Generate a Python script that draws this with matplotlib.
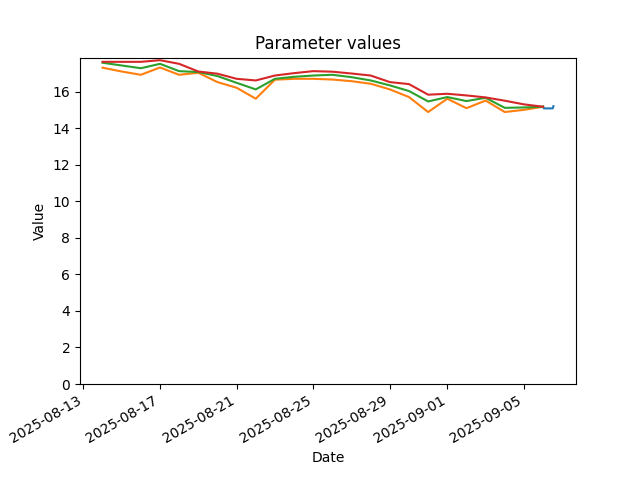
import matplotlib
matplotlib.use("Agg")
import matplotlib.pyplot as plt
import pandas as pd

dates = pd.date_range("2025-08-14", "2025-09-06", freq="D")

orange = [17.33, 17.12, 16.94, 17.34, 16.94, 17.05, 16.54, 16.23, 15.63, 16.67, 16.72, 16.72,
          16.68, 16.59, 16.45, 16.14, 15.72, 14.90, 15.63, 15.11, 15.53, 14.90, 15.02, 15.19]
green = [17.60, 17.45, 17.30, 17.54, 17.14, 17.09, 16.87, 16.50, 16.14, 16.72, 16.83, 16.90,
         16.94, 16.81, 16.63, 16.36, 16.05, 15.48, 15.72, 15.50, 15.68, 15.13, 15.15, 15.19]
red = [17.65, 17.65, 17.65, 17.74, 17.54, 17.12, 17.00, 16.72, 16.63, 16.90, 17.03, 17.14,
       17.11, 17.01, 16.90, 16.54, 16.43, 15.85, 15.90, 15.81, 15.70, 15.52, 15.32, 15.19]

blue_times = pd.to_datetime(["2025-09-06 00:00", "2025-09-06 01:00",
                             "2025-09-06 12:00", "2025-09-06 13:00"])
blue = [15.19, 15.10, 15.10, 15.22]

fig, ax = plt.subplots(figsize=(6.4, 4.8), dpi=100)
ax.plot(blue_times, blue, color="C0")
ax.plot(dates, orange, color="C1")
ax.plot(dates, green, color="C2")
ax.plot(dates, red, color="C3")
ax.set_ylim(bottom=0)
ax.set_title("Parameter values")
ax.set_xlabel("Date")
ax.set_ylabel("Value")
fig.autofmt_xdate()
fig.savefig("out.png", dpi=100)
